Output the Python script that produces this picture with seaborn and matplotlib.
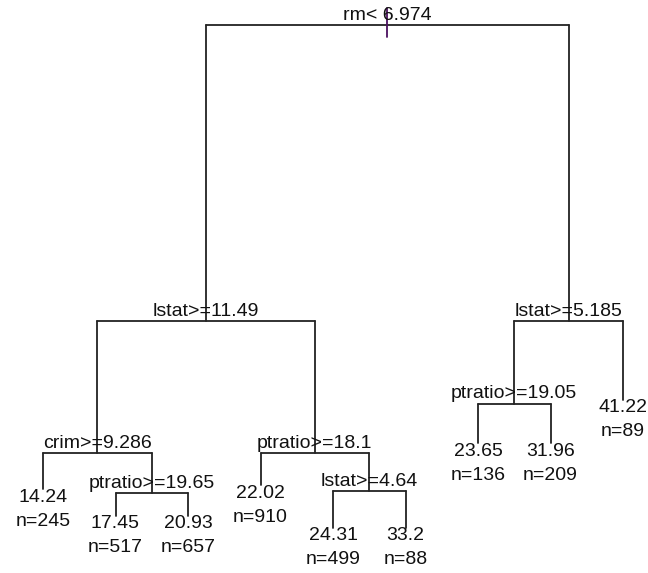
import numpy as np
import pandas as pd
import seaborn as sns
import matplotlib.pyplot as plt

# rpart tree (boston housing) -- nodes in preorder, rpart numbering
node_ids = [1, 2, 4, 8, 9, 18, 19, 5, 10, 11, 22, 23, 3, 6, 12, 13, 7]
split_labels = {1: "rm< 6.974", 2: "lstat>=11.49", 4: "crim>=9.286",
                9: "ptratio>=19.65", 5: "ptratio>=18.1", 11: "lstat>=4.64",
                3: "lstat>=5.185", 6: "ptratio>=19.05"}
leaf_values = {8: "14.24", 18: "17.45", 19: "20.93", 10: "22.02", 22: "24.31",
               23: "33.2", 12: "23.65", 13: "31.96", 7: "41.22"}
leaf_n = {8: 245, 18: 517, 19: 657, 10: 910, 22: 499, 23: 88, 12: 136, 13: 209, 7: 89}
# vertical position of each node (deviance-scaled depth)
node_depth = {1: 25, 2: 321, 3: 321, 4: 453, 5: 453, 9: 493, 11: 491, 6: 404,
              8: 489, 18: 516, 19: 516, 10: 485, 22: 528, 23: 528, 12: 443, 13: 443, 7: 400}

# x positions: leaves evenly spaced in preorder, parents at the midpoint
xpos = {}
leaf_i = 0
for nid in node_ids:
    if nid in leaf_values:
        leaf_i += 1
        xpos[nid] = leaf_i
for nid in sorted([n for n in node_ids if n not in leaf_values], reverse=True):
    xpos[nid] = (xpos[2 * nid] + xpos[2 * nid + 1]) / 2

segs = []
k = 0
for nid in split_labels:
    l, r = 2 * nid, 2 * nid + 1
    y0 = node_depth[nid]
    segs += [(k, xpos[l], y0), (k, xpos[r], y0)]
    k += 1
    for c in (l, r):
        segs += [(k, xpos[c], y0), (k, xpos[c], node_depth[c])]
        k += 1
df = pd.DataFrame(segs, columns=["seg", "x", "y"])

sns.set_style("white")
plt.rcParams["font.family"] = ["Liberation Sans", "DejaVu Sans"]

fig = plt.figure(figsize=(6.48, 5.73), dpi=100)
ax = fig.add_axes([0, 0, 1, 1])
sns.lineplot(data=df, x="x", y="y", units="seg", estimator=None, sort=False,
             color="#222222", linewidth=1.3, ax=ax, legend=False)

# little stub on the root
ax.plot([xpos[1], xpos[1]], [node_depth[1] - 17, node_depth[1] + 12],
        color="#4b1060", lw=1.3)

for nid, lab in split_labels.items():
    ax.annotate(lab, (xpos[nid], node_depth[nid]), xytext=(0, 10),
                textcoords="offset pixels", ha="center", va="center",
                fontsize=14, color="#111111")
for nid, v in leaf_values.items():
    ax.annotate(v, (xpos[nid], node_depth[nid]), xytext=(0, -8),
                textcoords="offset pixels", ha="center", va="center",
                fontsize=14, color="#111111")
    ax.annotate(f"n={leaf_n[nid]}", (xpos[nid], node_depth[nid]), xytext=(0, -32),
                textcoords="offset pixels", ha="center", va="center",
                fontsize=14, color="#111111")

ax.set_xlim(1 - 43 / 72.5, 1 + (648 - 43) / 72.5)
ax.set_ylim(573, 0)
ax.axis("off")
fig.savefig("out.png", dpi=100)
